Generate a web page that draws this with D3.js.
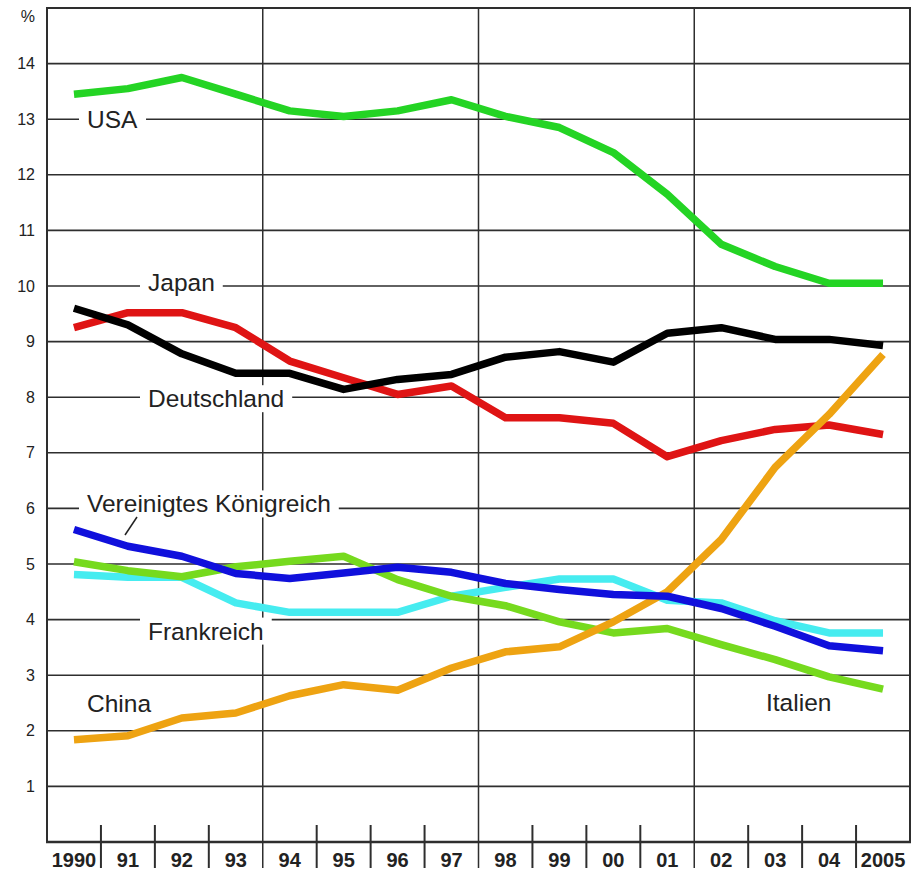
<!DOCTYPE html>
<html>
<head>
<meta charset="utf-8">
<script src="https://cdn.jsdelivr.net/npm/d3@7"></script>
<style>
  body { margin: 0; background: #fff; }
  svg { display: block; font-family: "Liberation Sans", Arial, Helvetica, sans-serif; }
</style>
</head>
<body>
<svg id="chart"></svg>
<script>
var width = 912;
var height = 872;

// data
const years = [1990, 1991, 1992, 1993, 1994, 1995, 1996, 1997, 1998, 1999, 2000, 2001, 2002, 2003, 2004, 2005];
const yearLabels = ["1990", "91", "92", "93", "94", "95", "96", "97", "98", "99", "00", "01", "02", "03", "04", "2005"];
const yTicks = [1, 2, 3, 4, 5, 6, 7, 8, 9, 10, 11, 12, 13, 14];

const usa         = [13.45, 13.55, 13.75, 13.45, 13.15, 13.05, 13.15, 13.35, 13.05, 12.85, 12.4, 11.65, 10.75, 10.35, 10.05, 10.05];
const japan       = [9.6, 9.3, 8.78, 8.43, 8.43, 8.14, 8.32, 8.41, 8.72, 8.82, 8.63, 9.15, 9.25, 9.04, 9.04, 8.93];
const deutschland = [9.25, 9.52, 9.52, 9.25, 8.65, 8.35, 8.05, 8.2, 7.63, 7.63, 7.53, 6.93, 7.22, 7.42, 7.5, 7.33];
const uk          = [5.62, 5.32, 5.14, 4.83, 4.74, 4.84, 4.94, 4.85, 4.65, 4.54, 4.45, 4.42, 4.2, 3.88, 3.53, 3.44];
const frankreich  = [4.81, 4.76, 4.76, 4.3, 4.13, 4.13, 4.13, 4.42, 4.58, 4.73, 4.73, 4.35, 4.3, 3.98, 3.76, 3.76];
const italien     = [5.04, 4.88, 4.77, 4.95, 5.05, 5.14, 4.72, 4.42, 4.25, 3.96, 3.76, 3.84, 3.55, 3.28, 2.97, 2.75];
const china       = [1.84, 1.91, 2.23, 2.32, 2.63, 2.83, 2.73, 3.13, 3.42, 3.51, 3.96, 4.5, 5.44, 6.74, 7.69, 8.77];

const series = [
  { name: "Deutschland", values: deutschland, color: "#df1414" },
  { name: "Japan", values: japan, color: "#000000" },
  { name: "Frankreich", values: frankreich, color: "#46ecf0" },
  { name: "Italien", values: italien, color: "#76da1e" },
  { name: "China", values: china, color: "#eea312" },
  { name: "Vereinigtes Königreich", values: uk, color: "#1010dc" },
  { name: "USA", values: usa, color: "#24d424" }
];

// layout
var plotLeft = 47, plotRight = 910, plotTop = 8, plotBottom = 842;
var svg = d3.select("#chart").attr("width", width).attr("height", height);

var x = d3.scaleBand().domain(years).range([plotLeft, plotRight]).padding(0);
var y = d3.scaleLinear().domain([0, 15]).range([plotBottom, plotTop]);
var gridColor = "#2e2e2e";

// horizontal grid
svg.append("g")
  .selectAll("line")
  .data(yTicks)
  .enter()
  .append("line")
  .attr("x1", plotLeft).attr("x2", plotRight)
  .attr("y1", function (d) { return y(d); })
  .attr("y2", function (d) { return y(d); })
  .style("stroke", gridColor)
  .style("stroke-width", 1.6);

// y labels via axis
var yAxis = svg.append("g")
  .attr("transform", "translate(" + plotLeft + ",0)")
  .call(d3.axisLeft(y).tickValues(yTicks).tickSize(0).tickPadding(12));
yAxis.select(".domain").remove();
yAxis.selectAll("text")
  .style("font-family", "Liberation Sans, Arial, sans-serif")
  .style("font-size", "16px")
  .style("fill", "#222");

svg.append("text")
  .attr("x", 35).attr("y", 22)
  .attr("text-anchor", "end")
  .style("font-size", "16px")
  .style("fill", "#222")
  .text("%");

// vertical separators
var majorAfter = [1993, 1997, 2001];
var boundaries = years.slice(0, years.length - 1);
svg.append("g")
  .selectAll("line")
  .data(boundaries)
  .enter()
  .append("line")
  .attr("x1", function (d) { return x(d) + x.bandwidth(); })
  .attr("x2", function (d) { return x(d) + x.bandwidth(); })
  .attr("y1", function (d) { return majorAfter.indexOf(d) >= 0 ? plotTop : 825; })
  .attr("y2", 868)
  .style("stroke", gridColor)
  .style("stroke-width", function (d) { return majorAfter.indexOf(d) >= 0 ? 1.5 : 2; });

// frame
svg.append("path")
  .attr("d", "M" + plotLeft + "," + plotBottom + "V" + plotTop + "H" + plotRight + "V" + plotBottom)
  .style("fill", "none")
  .style("stroke", gridColor)
  .style("stroke-width", 2);
svg.append("line")
  .attr("x1", plotLeft - 1).attr("x2", plotRight + 1)
  .attr("y1", plotBottom).attr("y2", plotBottom)
  .style("stroke", gridColor)
  .style("stroke-width", 2.4);

// x labels
svg.append("g")
  .selectAll("text")
  .data(years)
  .enter()
  .append("text")
  .attr("x", function (d) { return x(d) + x.bandwidth() / 2; })
  .attr("y", 867)
  .attr("text-anchor", "middle")
  .style("font-size", "20px")
  .style("font-weight", "bold")
  .style("fill", "#222")
  .text(function (d, i) { return yearLabels[i]; });

// series labels (with white knock-out on grid lines)
var labels = [
  { text: "USA", x: 87, v: 13, dy: 0, gap: true },
  { text: "Japan", x: 148, v: 10, dy: -4, gap: true },
  { text: "Deutschland", x: 148, v: 8, dy: 1, gap: true },
  { text: "Vereinigtes Königreich", x: 87, v: 6, dy: -5, gap: true },
  { text: "Frankreich", x: 148, v: 4, dy: 11, gap: true },
  { text: "China", x: 87, v: 2.5, dy: 0, gap: false },
  { text: "Italien", x: 766, v: 2.5, dy: -1, gap: false }
];

var lg = svg.append("g");
labels.forEach(function (l) {
  var g = lg.append("g");
  var t = g.append("text")
    .attr("x", l.x)
    .attr("y", y(l.v) + l.dy + 9)
    .style("font-size", "24.5px")
    .style("fill", "#222")
    .text(l.text);
  if (l.gap) {
    var bb = t.node().getBBox();
    g.insert("rect", "text")
      .attr("x", bb.x - 8)
      .attr("y", bb.y)
      .attr("width", bb.width + 16)
      .attr("height", bb.height)
      .style("fill", "#fff");
  }
});

// leader line for UK
svg.append("line")
  .attr("x1", 137).attr("y1", 517)
  .attr("x2", 125).attr("y2", 535)
  .style("stroke", "#222")
  .style("stroke-width", 1.5);

// lines
var line = d3.line()
  .x(function (d, i) { return x(years[i]) + x.bandwidth() / 2; })
  .y(function (d) { return y(d); });

svg.append("g")
  .selectAll("path")
  .data(series)
  .enter()
  .append("path")
  .attr("d", function (d) { return line(d.values); })
  .style("fill", "none")
  .style("stroke", function (d) { return d.color; })
  .style("stroke-width", 7.5)
  .style("stroke-linejoin", "round")
  .style("stroke-linecap", "butt");
</script>
</body>
</html>
